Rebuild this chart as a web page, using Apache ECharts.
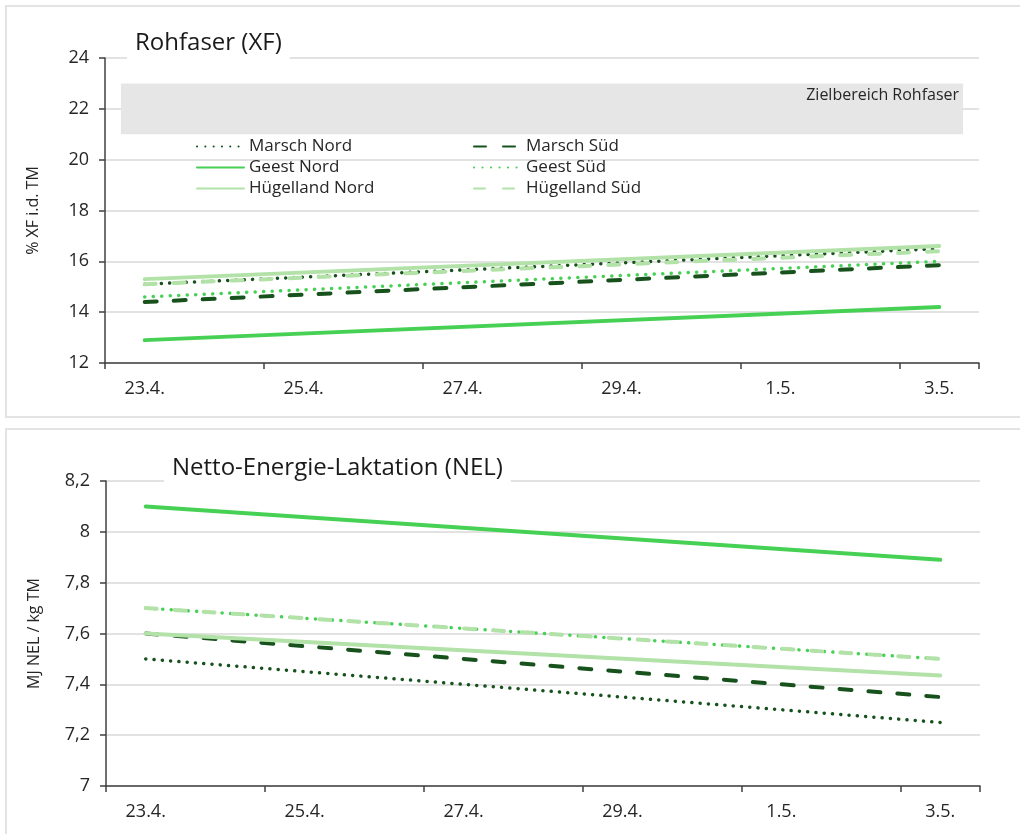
<!DOCTYPE html>
<html>
<head>
<meta charset="utf-8">
<script src="https://cdn.jsdelivr.net/npm/echarts@6/dist/echarts.min.js"></script>
<style>
  html, body { margin: 0; padding: 0; background: #fff; overflow: hidden; }
  .panel { position: absolute; left: 5px; width: 1030px; border: 2px solid #e3e3e3; background: #fff; }
  #xfChart { top: 5px; height: 409px; }
  #nelChart { top: 428px; height: 420px; }
</style>
</head>
<body>
<div id="xfChart" class="panel"></div>
<div id="nelChart" class="panel"></div>
<script>
// Tage auf der x-Achse
const days = ['23.4.', '24.4.', '25.4.', '26.4.', '27.4.', '28.4.', '29.4.', '30.4.', '1.5.', '2.5.', '3.5.'];
// Messtermine (Anfang und Ende der Linien)
const sampleDays = ['23.4.', '3.5.'];

const seriesNames = ['Marsch Nord', 'Marsch Süd', 'Geest Nord', 'Geest Süd', 'Hügelland Nord', 'Hügelland Süd'];

// Rohfaser (% XF i.d. TM)
const xfMarschNord = [15.1, 16.5];
const xfMarschSued = [14.4, 15.85];
const xfGeestNord = [12.9, 14.2];
const xfGeestSued = [14.6, 16.0];
const xfHuegelNord = [15.3, 16.6];
const xfHuegelSued = [15.1, 16.4];
// Zielbereich: Rohfaser-Spanne und Tage (relativ zum 23.4.)
const xfTarget = [21, 23];
const xfTargetDays = [-0.3, 10.3];

// NEL (MJ NEL / kg TM)
const nelMarschNord = [7.5, 7.25];
const nelMarschSued = [7.6, 7.35];
const nelGeestNord = [8.1, 7.89];
const nelGeestSued = [7.7, 7.5];
const nelHuegelNord = [7.6, 7.435];
const nelHuegelSued = [7.7, 7.5];

const xfTicks = { min: 12, max: 24, interval: 2 };
const nelTicks = { min: 7, max: 8.2, interval: 0.2 };

const FONT = 'Open Sans';
const dark = '#17521c';
const bright = '#46d054';
const light = '#b2e2a8';

const lineStyles = [
  { color: dark, width: 3.5, type: [0.1, 8.2], cap: 'round' },
  { color: dark, width: 4, type: [12, 17], cap: 'round' },
  { color: bright, width: 4, type: 'solid', cap: 'round' },
  { color: bright, width: 3.5, type: [0.1, 8.4], cap: 'round' },
  { color: light, width: 4, type: 'solid', cap: 'round' },
  { color: light, width: 4, type: [11, 18], cap: 'round' },
];

function pairs(vals) {
  return sampleDays.map((d, i) => [d, vals[i]]);
}

function makeSeries(valueSets) {
  return valueSets.map((vals, i) => ({
    name: seriesNames[i],
    type: 'line',
    data: pairs(vals),
    symbol: 'none',
    lineStyle: lineStyles[i],
    itemStyle: { color: lineStyles[i].color },
    animation: false,
  }));
}

function baseOption(title, yName, ticks, fmt) {
  return {
    animation: false,
    title: {
      text: title,
      left: 120,
      top: 20,
      padding: [4, 8, 6, 8],
      backgroundColor: '#fff',
      textStyle: { fontFamily: FONT, fontSize: 24, fontWeight: 'normal', color: '#1a1a1a' },
    },
    grid: { left: 98, top: 51, width: 874, height: 305, containLabel: false },
    xAxis: {
      type: 'category',
      data: days,
      boundaryGap: true,
      axisLine: { lineStyle: { color: '#404040', width: 1.5 } },
      axisTick: { show: true, interval: 1, length: 6, lineStyle: { color: '#404040', width: 1.5 } },
      axisLabel: { interval: 1, margin: 17, fontFamily: FONT, fontSize: 18, color: '#262626' },
      splitLine: { show: false },
    },
    yAxis: {
      type: 'value',
      min: ticks.min,
      max: ticks.max,
      interval: ticks.interval,
      name: yName,
      nameLocation: 'middle',
      nameGap: 64,
      nameTextStyle: { fontFamily: FONT, fontSize: 16, color: '#262626' },
      axisLine: { show: true, onZero: false, lineStyle: { color: '#404040', width: 1.5 } },
      axisTick: { show: true, length: 6, lineStyle: { color: '#404040', width: 1.5 } },
      axisLabel: { margin: 16, fontFamily: FONT, fontSize: 18, color: '#262626', formatter: fmt },
      splitLine: { lineStyle: { color: '#d9d9d9', width: 1.5 } },
    },
  };
}

function legendColumn(names, left) {
  return {
    data: names,
    orient: 'vertical', left: left, top: 126,
    itemWidth: 47, itemHeight: 14, itemGap: 4,
    itemStyle: { color: 'transparent', borderWidth: 0, opacity: 0 },
    textStyle: { fontFamily: FONT, fontSize: 17, color: '#262626' },
  };
}

// --- Rohfaser ---
const xfChart = echarts.init(document.getElementById('xfChart'));
const xfOption = baseOption('Rohfaser (XF)', '% XF i.d. TM', xfTicks, (v) => String(v));
xfOption.xAxis = [
  xfOption.xAxis,
  { type: 'value', min: -0.5, max: days.length - 0.5, show: false },
];
xfOption.legend = [
  legendColumn([seriesNames[0], seriesNames[2], seriesNames[4]], 184),
  legendColumn([seriesNames[1], seriesNames[3], seriesNames[5]], 461),
];
const xfSeries = [{
  name: 'Zielbereich Rohfaser',
  type: 'line',
  xAxisIndex: 1,
  data: [],
  z: 1,
  markArea: {
    silent: true,
    itemStyle: { color: '#e6e6e6' },
    label: {
      show: true, position: 'insideTopRight', distance: 4,
      fontFamily: FONT, fontSize: 16, color: '#262626',
    },
    data: [[
      { name: 'Zielbereich Rohfaser', xAxis: xfTargetDays[0], yAxis: xfTarget[0] },
      { xAxis: xfTargetDays[1], yAxis: xfTarget[1] },
    ]],
  },
}].concat(makeSeries([xfMarschNord, xfMarschSued, xfGeestNord, xfGeestSued, xfHuegelNord, xfHuegelSued]));
xfOption.series = xfSeries;
xfChart.setOption(xfOption);

// --- NEL ---
const nelChart = echarts.init(document.getElementById('nelChart'));
const nelOption = baseOption('Netto-Energie-Laktation (NEL)', 'MJ NEL / kg TM', nelTicks,
  (v) => String(Math.round(v * 10) / 10).replace('.', ','));
nelOption.title.left = 157;
nelOption.title.top = 22;
nelOption.grid.left = 99;
nelOption.legend = { show: false };
nelOption.series = makeSeries([nelMarschNord, nelMarschSued, nelGeestNord, nelGeestSued, nelHuegelNord, nelHuegelSued]);
nelChart.setOption(nelOption);
</script>
</body>
</html>
